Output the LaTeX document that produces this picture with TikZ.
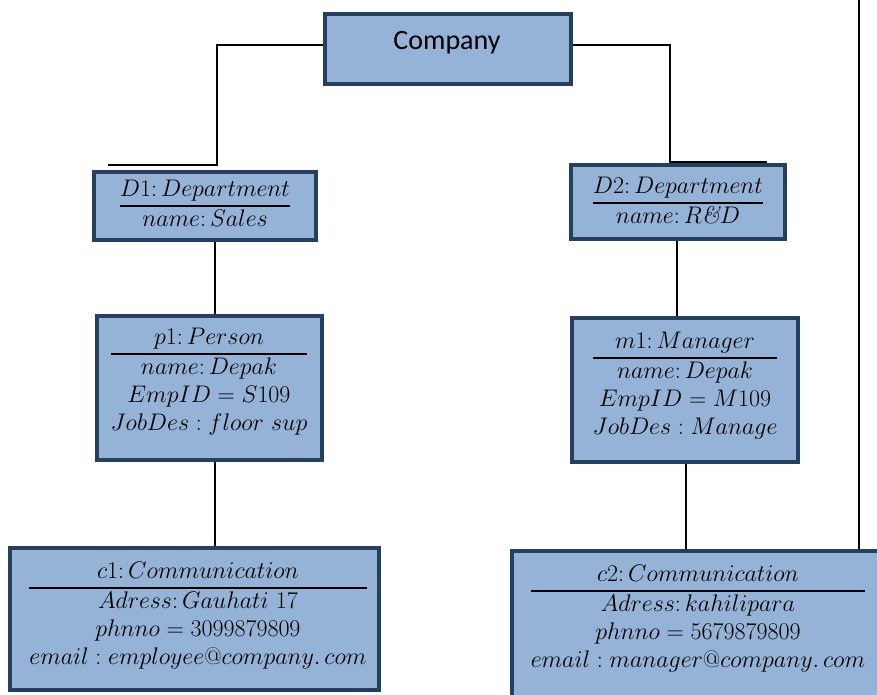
\RequirePackage{fix-cm}
\documentclass[tikz,border=0pt]{standalone}
\usepackage{fontspec}
\usepackage{array}
\usetikzlibrary{calc}
\newfontfamily\calibrifont{Carlito}
\definecolor{boxfill}{HTML}{95B3D7}
\definecolor{boxedge}{HTML}{243F60}
% object box contents: title row, rule, attribute rows
\newcommand\objtab[1]{{\renewcommand\arraystretch{1}\setlength\arrayrulewidth{1.5pt}\begin{tabular}{@{}c@{}}#1\end{tabular}}}
\begin{document}
\begin{tikzpicture}[x=0.75pt,y=-0.75pt]
\tikzset{
  obj/.style={draw=boxedge, fill=boxfill, line width=3pt, rectangle, inner sep=0pt},
  attrs/.style={anchor=north, inner sep=0pt, font=\fontsize{18}{21}\selectfont},
  link/.style={draw=black, line width=1.1pt}
}
\useasboundingbox (0,0) rectangle (877,694);
\clip (0,0) rectangle (877,694);

% boxes
\node[obj, minimum width=184.5pt, minimum height=52.5pt] (company) at (448,49) {};
\node[obj, minimum width=166.5pt, minimum height=51pt] (d1) at (205,206) {};
\node[obj, minimum width=168.75pt, minimum height=108pt] (p1) at (209.5,388) {};
\node[obj, minimum width=276.75pt, minimum height=106.5pt] (c1) at (194.5,619) {};
\node[obj, minimum width=160.5pt, minimum height=55.5pt] (d2) at (678,202) {};
\node[obj, minimum width=169.5pt, minimum height=108pt] (m1) at (685,390) {};
\node[obj, minimum width=306pt, minimum height=141.75pt] (c2) at (716,645.5) {};

% texts
\node[font=\calibrifont\fontsize{21}{25}\selectfont, inner sep=0pt] (companytxt) at (447,43) {Company};
\node[attrs] (d1txt) at (205,177) {\objtab{$D1\colon Department$\\ \hline $name\colon Sales$}};
\node[attrs] (p1txt) at (209,325) {\objtab{$p1\colon Person$\\ \hline $name\colon Depak$\\ $EmpID = S109$\\ $JobDes : floor\ sup$}};
\node[attrs] (c1txt) at (198,559) {\objtab{$c1\colon Communication$\\ \hline $Adress\colon Gauhati\ 17$\\ $phnno = 3099879809$\\ $email : employee@company.\,com$}};
\node[attrs] (d2txt) at (678,174) {\objtab{$D2\colon Department$\\ \hline $name\colon R\textit{\&}D$}};
\node[attrs] (m1txt) at (685,329) {\objtab{$m1\colon Manager$\\ \hline $name\colon Depak$\\ $EmpID = M109$\\ $JobDes : Manage$}};
\node[attrs] (c2txt) at (698,562) {\objtab{$c2\colon Communication$\\ \hline $Adress\colon kahilipara$\\ $phnno = 5679879809$\\ $email : manager@company.\,com$}};

% connectors
\coordinate (jL) at (217,165);
\coordinate (eL) at (108,165);
\coordinate (jR) at (670,162);
\coordinate (eR) at (767,162);
\coordinate (v1) at (215,0);
\coordinate (v3) at (677,0);
\coordinate (v4) at (686,0);
\coordinate (top) at (859,0);
\draw[link] ($(company.west)+(0,-4)$) -| (jL) -- (eL);
\draw[link] ($(company.east)+(0,-4)$) -| (jR) -- (eR);
\draw[link] (d1.south -| v1) -- (p1.north -| v1);
\draw[link] (p1.south -| v1) -- (c1.north -| v1);
\draw[link] (d2.south -| v3) -- (m1.north -| v3);
\draw[link] (m1.south -| v4) -- (c2.north -| v4);
\draw[link] (top) -- (c2.north -| top);
\end{tikzpicture}
\end{document}
